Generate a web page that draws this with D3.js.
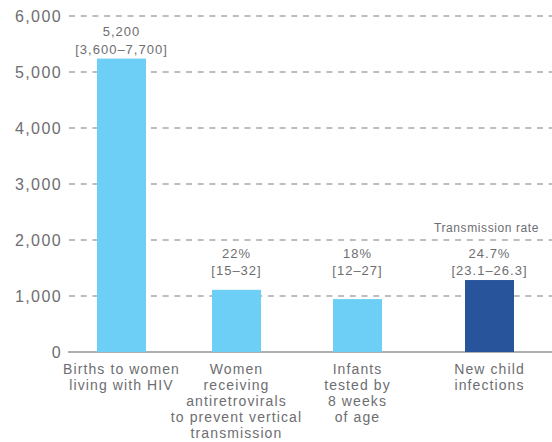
<!DOCTYPE html>
<html lang="en">
<head>
    <meta charset="UTF-8">
    <title>Vertical transmission cascade</title>
    <script src="https://d3js.org/d3.v7.min.js"></script>
    <style>
        body { margin: 0; background: #fff; }
        text { font-family: "Liberation Sans", Arial, sans-serif; fill: #6d6e71; }
    </style>
</head>
<body>
    <div id="chart"></div>
    <script>
        // data
        var categories = ["births", "arv", "tested", "infections"];
        var catLabels = [
            ["Births to women", "living with HIV"],
            ["Women", "receiving", "antiretrovirals", "to prevent vertical", "transmission"],
            ["Infants", "tested by", "8 weeks", "of age"],
            ["New child", "infections"]
        ];
        var values = [5240, 1110, 945, 1285];
        var valueLabels = ["5,200", "22%", "18%", "24.7%"];
        var rangeLabels = ["[3,600\u20137,700]", "[15\u201332]", "[12\u201327]", "[23.1\u201326.3]"];
        var barColors = ["#6dcff6", "#6dcff6", "#6dcff6", "#27549a"];
        var yTicks = [0, 1000, 2000, 3000, 4000, 5000, 6000];

        var width = 552, height = 442;
        var plotTop = 16, plotBase = 352, plotLeft = 68;

        var svg = d3.select("#chart")
            .append("svg")
            .attr("width", width)
            .attr("height", height);

        var y = d3.scaleLinear()
            .domain([0, 6000])
            .range([plotBase, plotTop]);

        // the bars are not evenly spaced in the original
        var x = d3.scaleOrdinal()
            .domain(categories)
            .range([121.5, 236.5, 357.5, 489.5]);
        var barW = 49;

        // dashed gridlines
        svg.selectAll(".grid")
            .data(yTicks.filter(function(d) { return d > 0; }))
            .enter().append("line")
            .attr("x1", plotLeft + 1).attr("x2", width)
            .attr("y1", function(d) { return y(d); })
            .attr("y2", function(d) { return y(d); })
            .style("stroke", "#a7a9ac")
            .style("stroke-width", 1.5)
            .style("stroke-dasharray", "6,5.7");

        svg.append("line")
            .attr("x1", plotLeft).attr("x2", width)
            .attr("y1", y(0)).attr("y2", y(0))
            .style("stroke", "#939598")
            .style("stroke-width", 1.5);

        svg.selectAll(".ytick")
            .data(yTicks)
            .enter().append("text")
            .attr("x", 62)
            .attr("y", function(d) { return y(d) + 6; })
            .attr("text-anchor", "end")
            .style("font-size", "16px")
            .style("letter-spacing", "1.4px")
            .text(function(d) { return d3.format(",")(d); });

        var rows = categories.map(function(c, i) {
            return { key: c, value: values[i], label: valueLabels[i], range: rangeLabels[i], color: barColors[i], lines: catLabels[i] };
        });

        svg.selectAll(".bar")
            .data(rows)
            .enter().append("rect")
            .attr("x", function(d) { return x(d.key) - barW / 2; })
            .attr("width", barW)
            .attr("y", function(d) { return y(d.value); })
            .attr("height", function(d) { return y(0) - y(d.value); })
            .style("fill", function(d) { return d.color; });

        // the three small bars share one label height
        var smallTop = d3.max(values.slice(1));
        function labelBase(d, i) { return y(i === 0 ? d.value : smallTop) - 5; }

        var vl = svg.selectAll(".vlabel")
            .data(rows)
            .enter().append("g")
            .attr("transform", function(d, i) { return "translate(" + x(d.key) + "," + labelBase(d, i) + ")"; });

        vl.append("text")
            .attr("y", -17.5)
            .attr("text-anchor", "middle")
            .style("font-size", "13px")
            .style("letter-spacing", "1px")
            .text(function(d) { return d.label; });

        vl.append("text")
            .attr("y", 0)
            .attr("text-anchor", "middle")
            .style("font-size", "13px")
            .style("letter-spacing", "1px")
            .text(function(d) { return d.range; });

        svg.append("text")
            .attr("x", x("infections") - 3)
            .attr("y", y(smallTop) - 48)
            .attr("text-anchor", "middle")
            .style("font-size", "12px")
            .style("letter-spacing", "0.6px")
            .text("Transmission rate");

        // category labels under the axis
        var cl = svg.selectAll(".clabel")
            .data(rows)
            .enter().append("text")
            .attr("text-anchor", "middle")
            .style("font-size", "14px")
            .style("letter-spacing", "1.1px");

        cl.selectAll("tspan")
            .data(function(d) { return d.lines.map(function(l) { return { t: l, cx: x(d.key) }; }); })
            .enter().append("tspan")
            .attr("x", function(d) { return d.cx; })
            .attr("y", function(d, i) { return plotBase + 22 + i * 16; })
            .text(function(d) { return d.t; });
    </script>
</body>
</html>
